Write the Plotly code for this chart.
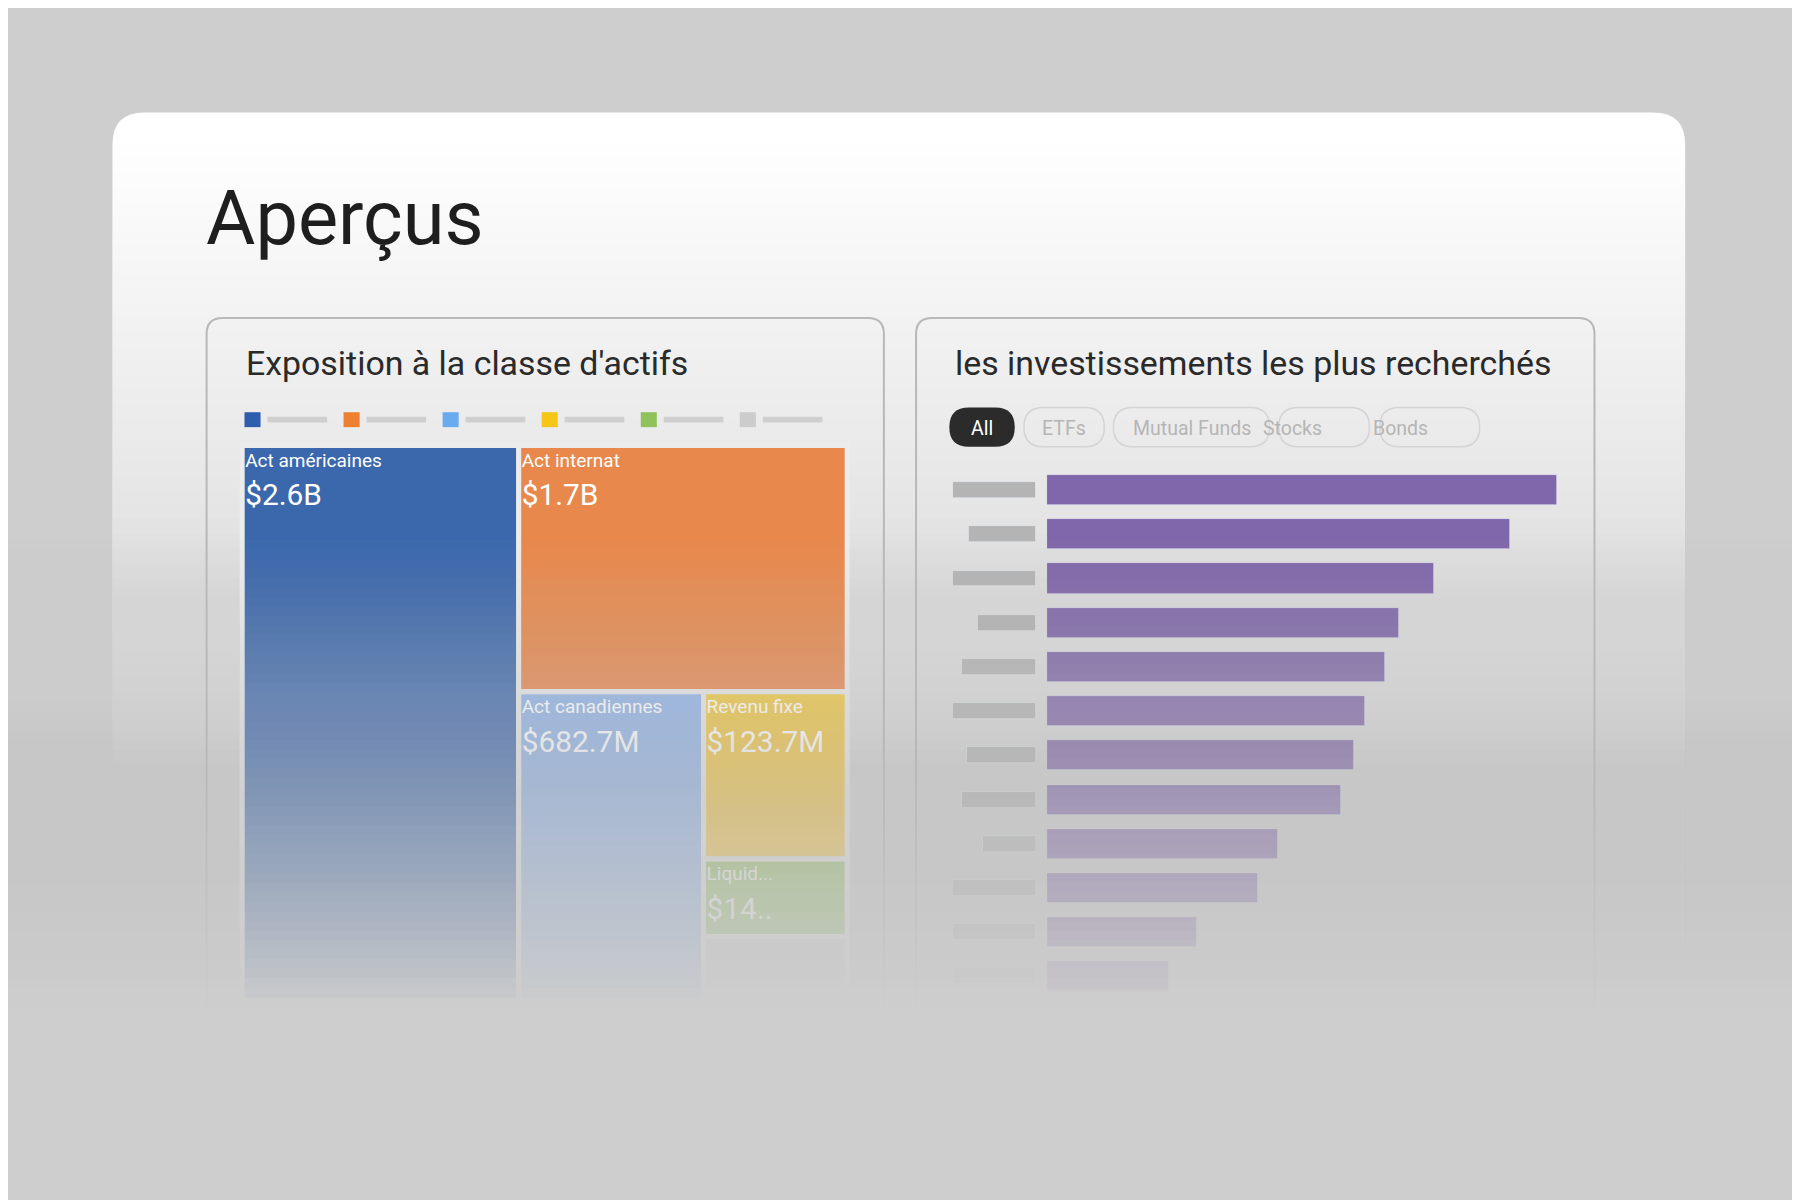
import plotly.graph_objects as go

W, H = 1800, 1200
RW, RH = 1568, 1045
S = W / RW
def X(px): return (px - 7) / RW
def Y(py): return 1 - (py - 7) / RH

FONT = "Roboto, Liberation Sans, sans-serif"

# treemap data (areas; labels as shown)
tm_ids = ["root", "Act américaines", "rest", "Act internat", "right", "Act canadiennes", "bottom",
          "Revenu fixe", "Liquid...", "Autres"]
tm_parents = ["", "root", "root", "rest", "rest", "right", "right", "bottom", "bottom", "bottom"]
tm_text = ["", "$2.6B", "", "$1.7B", "", "$682.7M", "", "$123.7M", "$14..", ""]
tm_area = [0, 111922, 0, 59020, 0, 41613, 0, 17515, 8136, 6667]
tm_colors = ["#ececec", "#3b68ad", "#ececec", "#e8884c", "#ececec", "#8db6ea", "#ececec", "#f2c53a", "#92c15e", "#cfcfcf"]
tm_show = [False, True, False, True, False, True, False, True, True, False]
legend_colors = ["#2e5fae", "#ee8033", "#6aaaee", "#f5c518", "#8fc25a", "#cccccc"]

# bar data
bar_names = ["Inv 1", "Inv 2", "Inv 3", "Inv 4", "Inv 5", "Inv 6", "Inv 7", "Inv 8", "Inv 9", "Inv 10", "Inv 11", "Inv 12"]
bar_values = [444, 403, 337, 307, 294, 277, 267, 256, 201, 184, 131, 106]
label_widths = [72, 58, 72, 50, 64, 72, 60, 64, 46, 72, 72, 72]
pills = ["All", "ETFs", "Mutual Funds", "Stocks", "Bonds"]
pill_x = [(827, 884), (892, 962), (970, 1106), (1114, 1193), (1202, 1289)]

fig = go.Figure()

tmpl = [("<span style='font-size:%dpx'>%%{label}</span><br>%%{text}" % int(17 * S)) if s else "" for s in tm_show]
fig.add_trace(go.Treemap(
    ids=tm_ids, labels=[i if i not in ("root", "rest", "right", "bottom") else "" for i in tm_ids],
    parents=tm_parents, values=tm_area, text=tm_text, branchvalues="remainder",
    sort=False, tiling=dict(packing="slice-dice", pad=0),
    marker=dict(colors=tm_colors, pad=dict(t=0, l=0, r=0, b=0),
                line=dict(width=[0, 5, 0, 5, 0, 5, 0, 5, 5, 5], color="#ececec")),
    texttemplate=tmpl, textposition="top left",
    textfont=dict(family=FONT, color="white", size=26 * S),
    hoverinfo="label+text", pathbar=dict(visible=False),
    domain=dict(x=[X(211), X(738)], y=[Y(871), Y(388)]),
))

fig.add_trace(go.Bar(
    y=bar_names, x=bar_values, orientation="h", marker_color="#8066aa",
    width=0.68, xaxis="x", yaxis="y", showlegend=False,
))
fig.add_trace(go.Bar(
    y=bar_names, x=label_widths, orientation="h", marker_color="#b4b4b4",
    width=0.36, xaxis="x2", yaxis="y", showlegend=False,
))

def stacked(top, bottom, n, f, layer, x0, x1):
    out = []
    prev = 0.0
    for i in range(n):
        A = min(0.999, f((i + 1) / n))
        a = 1 - (1 - A) / (1 - prev)
        prev = A
        ya = top + (bottom - top) * i / n
        out.append(dict(type="rect", xref="paper", yref="paper", layer=layer,
            x0=x0, x1=x1, y0=Y(bottom), y1=Y(ya), fillcolor=f"rgba(206,206,206,{a:.4f})", line=dict(width=0)))
    return out

shapes = []
r = 28
x0, x1, y0, y1 = X(98), X(1468), Y(98), Y(880)
rx, ry = r / RW, r / RH
shapes.append(dict(type="path", xref="paper", yref="paper", layer="below",
    path=f"M {x0},{y1} L {x0},{y0-ry} Q {x0},{y0} {x0+rx},{y0} L {x1-rx},{y0} Q {x1},{y0} {x1},{y0-ry} L {x1},{y1} Z",
    fillcolor="white", line=dict(width=0)))
shapes += stacked(125, 880, 60, lambda t: t ** 0.95, "below", x0, x1)
for (px0, px1) in [(180, 770), (798, 1389)]:
    a0, a1, b0, b1 = X(px0), X(px1), Y(277), Y(900)
    rx2, ry2 = 14 / RW, 14 / RH
    shapes.append(dict(type="path", xref="paper", yref="paper", layer="below",
        path=f"M {a0},{b1} L {a0},{b0-ry2} Q {a0},{b0} {a0+rx2},{b0} L {a1-rx2},{b0} Q {a1},{b0} {a1},{b0-ry2} L {a1},{b1}",
        line=dict(color="#b8b8b8", width=2)))
for i, c in enumerate(legend_colors):
    lx = 213 + 86.3 * i
    shapes.append(dict(type="rect", xref="paper", yref="paper", x0=X(lx), x1=X(lx + 14), y0=Y(372), y1=Y(359),
        fillcolor=c, line=dict(width=0)))
    shapes.append(dict(type="rect", xref="paper", yref="paper", x0=X(lx + 20), x1=X(lx + 72), y0=Y(368), y1=Y(363),
        fillcolor="#cfcfcf", line=dict(width=0)))
annotations = []
for i, (p, (pa, pb)) in enumerate(zip(pills, pill_x)):
    rr = 17
    a0, a1, b0, b1 = X(pa), X(pb), Y(355), Y(389)
    rxp, ryp = rr / RW, rr / RH
    path = (f"M {a0+rxp},{b0} L {a1-rxp},{b0} Q {a1},{b0} {a1},{b0-ryp} Q {a1},{b1} {a1-rxp},{b1} "
            f"L {a0+rxp},{b1} Q {a0},{b1} {a0},{b1+ryp} Q {a0},{b0} {a0+rxp},{b0} Z")
    if i == 0:
        shapes.append(dict(type="path", xref="paper", yref="paper", path=path, fillcolor="#2b2b2b", line=dict(width=0)))
    else:
        shapes.append(dict(type="path", xref="paper", yref="paper", path=path, fillcolor="rgba(0,0,0,0)", line=dict(color="#d4d4d4", width=1.5)))
    annotations.append(dict(text=p, x=X((pa + pb) / 2), y=Y(373), xref="paper", yref="paper", showarrow=False,
        font=dict(family=FONT, size=17 * S, color="white" if i == 0 else "#b5b5b5")))
shapes += stacked(470, 885, 50, lambda t: t, "above", 0, 1)
shapes.append(dict(type="rect", xref="paper", yref="paper", layer="above",
    x0=0, x1=1, y0=-0.01, y1=Y(884), fillcolor="#cecece", line=dict(width=0)))

annotations += [
    dict(text="Aperçus", x=X(178), y=Y(190), xref="paper", yref="paper", xanchor="left", yanchor="middle",
         showarrow=False, font=dict(family=FONT, size=66 * S, color="#1e1e1e")),
    dict(text="Exposition à la classe d'actifs", x=X(213), y=Y(317), xref="paper", yref="paper", xanchor="left",
         yanchor="middle", showarrow=False, font=dict(family=FONT, size=29.5 * S, color="#2a2a2a")),
    dict(text="les investissements les plus recherchés", x=X(830), y=Y(317), xref="paper", yref="paper",
         xanchor="left", yanchor="middle", showarrow=False, font=dict(family=FONT, size=29.5 * S, color="#2a2a2a")),
]

fig.update_layout(
    width=W, height=H, margin=dict(l=0, r=0, t=0, b=0),
    paper_bgcolor="#cecece", plot_bgcolor="rgba(0,0,0,0)", showlegend=False, bargap=0,
    shapes=shapes, annotations=annotations,
    xaxis=dict(domain=[X(912), X(1357)], range=[0, 445], visible=False, fixedrange=True),
    xaxis2=dict(domain=[X(830), X(902)], range=[72, 0], visible=False, anchor="y"),
    yaxis=dict(domain=[Y(869.5), Y(407.5)], range=[11.5, -0.5], visible=False,
               categoryorder="array", categoryarray=bar_names),
)

fig.write_html("out.html")
